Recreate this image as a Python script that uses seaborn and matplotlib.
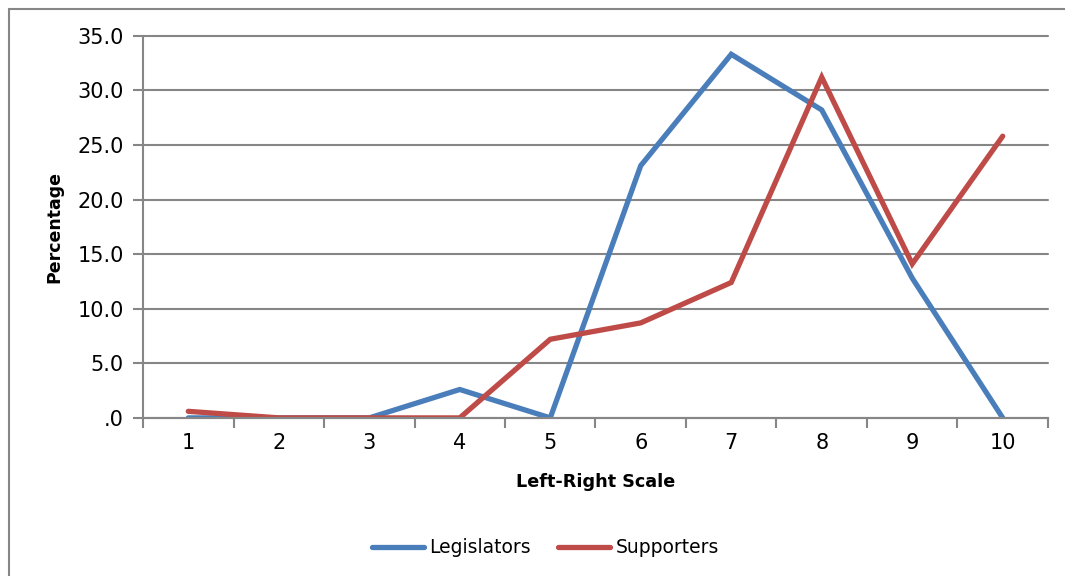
import matplotlib
matplotlib.use("Agg")
import matplotlib.pyplot as plt
import seaborn as sns
import pandas as pd
from matplotlib.lines import Line2D
from matplotlib.ticker import FixedLocator, FuncFormatter

# Left-right self placement distribution (percent of respondents)
scale_points = [1, 2, 3, 4, 5, 6, 7, 8, 9, 10]
legislators = [0.0, 0.0, 0.0, 2.6, 0.0, 23.1, 33.3, 28.2, 12.8, 0.0]
supporters = [0.6, 0.0, 0.0, 0.0, 7.2, 8.7, 12.4, 31.2, 14.1, 25.8]
series_names = ["Legislators", "Supporters"]
y_ticks = [0, 5, 10, 15, 20, 25, 30, 35]

df = pd.DataFrame({
    "scale": scale_points * 2,
    "pct": legislators + supporters,
    "group": [series_names[0]] * len(scale_points) + [series_names[1]] * len(scale_points),
})

sns.set_theme(style="white")
plt.rcParams["font.family"] = ["DejaVu Sans"]
plt.rcParams["text.color"] = "black"
plt.rcParams["axes.labelcolor"] = "black"

grid_col = "#868686"
palette = {"Legislators": "#4A7EBB", "Supporters": "#BE4B48"}

fig = plt.figure(figsize=(10.65, 5.76), dpi=100)
ax = fig.add_axes([0.1343, 0.2745, 0.8497, 0.6635])

# chart-area frame: top and left edges run off the canvas
fx = 8.5 / 1065
fy = 1 - 8.5 / 576
fig.lines.append(Line2D([fx, 1.05], [fy, fy], transform=fig.transFigure,
                        color=grid_col, linewidth=1.5, zorder=0))
fig.lines.append(Line2D([fx, fx], [-0.05, fy], transform=fig.transFigure,
                        color=grid_col, linewidth=1.5, zorder=0))

sns.lineplot(data=df, x="scale", y="pct", hue="group", palette=palette,
             linewidth=3.8, ax=ax, legend=False, solid_capstyle="round",
             solid_joinstyle="miter")

ax.set_xlim(0.5, 10.5)
ax.set_ylim(0, 35)

ax.yaxis.set_major_locator(FixedLocator(y_ticks))
ax.yaxis.set_major_formatter(FuncFormatter(lambda v, p: ".0" if v == 0 else f"{v:.1f}"))
ax.grid(axis="y", color=grid_col, linewidth=1.5)
ax.set_axisbelow(True)

# category boundaries carry the tick marks, labels sit at the category centres
ax.xaxis.set_major_locator(FixedLocator([x + 0.5 for x in range(0, 11)]))
ax.xaxis.set_major_formatter(FuncFormatter(lambda v, p: ""))
ax.xaxis.set_minor_locator(FixedLocator(scale_points))
ax.xaxis.set_minor_formatter(FuncFormatter(lambda v, p: f"{int(round(v))}"))

ax.tick_params(axis="x", which="major", direction="out", length=7, width=1.5,
               color=grid_col, bottom=True)
ax.tick_params(axis="x", which="minor", length=0, labelsize=15, pad=11,
               labelcolor="black", bottom=True)
ax.tick_params(axis="y", which="major", direction="out", length=7, width=1.5,
               color=grid_col, labelsize=15, pad=7, labelcolor="black", left=True)

for side in ["top", "right"]:
    ax.spines[side].set_visible(False)
for side in ["left", "bottom"]:
    ax.spines[side].set_color(grid_col)
    ax.spines[side].set_linewidth(1.5)

ax.set_xlabel("Left-Right Scale", fontsize=12.7, fontweight="bold", labelpad=14,
              color="black")
ax.set_ylabel("Percentage", fontsize=12.5, fontweight="bold", labelpad=10,
              color="black")

handles = [Line2D([], [], color=palette[n], linewidth=3.8, solid_capstyle="round")
           for n in series_names]
leg = fig.legend(handles, series_names, loc="center", bbox_to_anchor=(0.512, 0.049),
                 ncol=2, frameon=False, fontsize=13.5, handlelength=2.8,
                 handletextpad=0.27, columnspacing=1.45, labelcolor="black")

fig.canvas.draw()
# keep the topmost gridline at full width
for gl in ax.get_ygridlines():
    gl.set_clip_on(False)

fig.savefig("out.png", dpi=100)
